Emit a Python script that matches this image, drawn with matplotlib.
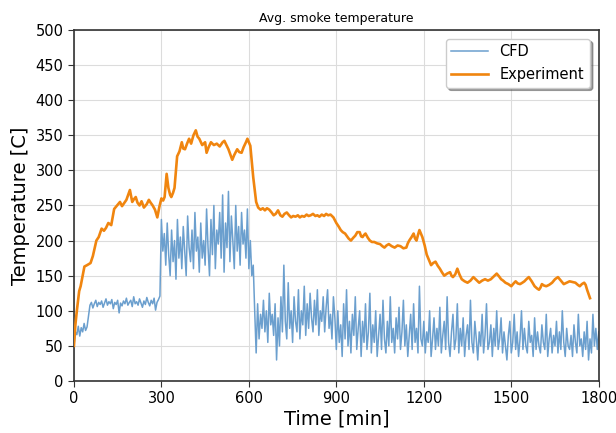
import numpy as np
import matplotlib
matplotlib.use("Agg")
import matplotlib.pyplot as plt

# CFD series sampled every 5 min, 0..1800
cfd_step = 5
cfd_vals = [
    50, 70, 66, 78, 64, 76, 70, 82, 72, 77,
    92, 108, 112, 104, 110, 115, 106, 112, 109, 114,
    105, 111, 117, 108, 113, 110, 116, 103, 112, 109,
    115, 97, 111, 107, 114, 110, 118, 108, 112, 115,
    106, 120, 110, 113, 108, 117, 111, 105, 114, 109,
    119, 112, 107, 115, 110, 118, 101, 112, 116, 121,
    230, 185, 210, 165, 225, 180, 150, 215, 170, 200,
    145, 230, 175, 205, 160, 220, 185, 150, 235, 190,
    170, 215, 160, 240, 185, 205, 155, 225, 175, 200,
    165, 245, 190, 150, 230, 180, 250, 160, 215, 195,
    240, 175, 265, 155, 225, 190, 270, 170, 235, 200,
    160, 250, 185, 220, 165, 240, 195, 215, 175, 245,
    160, 200, 150, 165, 100, 40, 110, 60, 95, 75,
    115, 70, 100, 55, 125, 80, 95, 65, 110, 30,
    90, 50, 120, 70, 165, 85, 60, 140, 75, 100,
    55, 120, 85, 70, 130, 60, 100, 80, 135, 65,
    110, 75, 125, 90, 70, 115, 80, 130, 65, 100,
    85, 120, 70, 105, 130, 75, 95, 60, 120, 90,
    45, 100, 55, 80, 35, 110, 60, 130, 50, 85,
    40, 95, 65, 120, 45, 75, 100, 35, 85, 55,
    110, 45, 70, 125, 40, 80, 55, 100, 35, 65,
    95, 45, 115, 60, 40, 85, 50, 120, 55, 75,
    40, 90, 60, 105, 45, 70, 115, 50, 80, 35,
    65, 95, 45, 110, 55, 75, 40, 135, 60, 50,
    85, 40, 70, 55, 100, 35, 60, 90, 45, 75,
    50, 105, 40, 65, 85, 45, 120, 55, 35, 70,
    95, 45, 60, 110, 40, 75, 50, 90, 35, 65,
    80, 45, 115, 55, 40, 85, 60, 30, 70, 50,
    95, 40, 65, 110, 45, 55, 80, 35, 75, 50,
    100, 45, 60, 90, 40, 70, 50, 30, 65, 85,
    40, 55, 95, 45, 70, 35, 60, 100, 45, 75,
    50, 40, 85, 55, 65, 35, 90, 45, 70, 50,
    40, 80, 55, 45, 95, 35, 60, 75, 40, 65,
    50, 85, 40, 70, 45, 100, 55, 35, 75, 50,
    45, 65, 35, 80, 55, 40, 95, 50, 60, 35,
    70, 45, 85, 30, 60, 40, 95, 50, 75, 45,
    70,
]
cfd_time = np.arange(len(cfd_vals)) * cfd_step

exp_time = [0, 5, 10, 18, 23, 30, 36, 45, 57, 65, 77, 85, 95, 103, 110, 118, 128,
            138, 148, 158, 165, 170, 180, 192, 200, 206, 212, 218, 225, 232, 240,
            250, 257, 263, 270, 278, 286, 293, 300, 306, 311, 318, 324, 330, 334,
            340, 345, 354, 362, 370, 375, 381, 388, 395, 402, 410, 418, 424, 430,
            440, 450, 455, 462, 470, 480, 490, 500, 510, 516, 523, 530, 537, 543,
            550, 560, 567, 575, 582, 590, 595, 605, 615, 625, 632, 640, 648, 655,
            662, 670, 678, 685, 692, 700, 708, 715, 722, 730, 738, 745, 752, 760,
            768, 775, 782, 790, 798, 805, 812, 820, 828, 835, 842, 850, 858, 865,
            872, 880, 890, 900, 908, 915, 922, 930, 935, 942, 950, 958, 965, 972,
            980, 985, 990, 995, 1000, 1008, 1015, 1022, 1030, 1040, 1050, 1058,
            1065, 1072, 1080, 1090, 1100, 1110, 1120, 1130, 1140, 1145, 1150, 1158,
            1165, 1170, 1175, 1180, 1185, 1190, 1195, 1203, 1210, 1218, 1225, 1232,
            1240, 1248, 1255, 1262, 1270, 1280, 1290, 1295, 1300, 1308, 1315, 1322,
            1330, 1340, 1350, 1360, 1370, 1380, 1390, 1400, 1410, 1420, 1430, 1440,
            1450, 1458, 1465, 1472, 1480, 1490, 1500, 1508, 1515, 1522, 1530, 1538,
            1545, 1552, 1560, 1570, 1580, 1588, 1595, 1600, 1605, 1612, 1620, 1630,
            1640, 1650, 1660, 1670, 1680, 1690, 1700, 1710, 1720, 1728, 1735, 1742,
            1750, 1755, 1760, 1765, 1770]
exp_vals = [50, 80, 100, 128, 135, 150, 163, 165, 168, 178, 200, 205, 217, 214, 218, 225, 222,
            245, 250, 255, 249, 252, 258, 272, 255, 259, 262, 254, 250, 256, 247,
            252, 258, 254, 250, 244, 233, 248, 260, 257, 262, 295, 275, 265, 262,
            268, 275, 320, 327, 340, 331, 330, 338, 345, 338, 350, 357, 348, 345,
            336, 340, 325, 333, 340, 336, 338, 334, 340, 342, 336, 330, 322, 315,
            322, 330, 326, 325, 333, 340, 345, 335, 290, 255, 247, 244, 246, 243,
            246, 244, 240, 236, 238, 243, 236, 234, 238, 240, 236, 233, 235, 234,
            236, 233, 235, 234, 237, 235, 236, 238, 235, 236, 234, 237, 235, 238,
            236, 237, 233, 225, 220, 215, 212, 210, 207, 203, 200, 204, 207, 212,
            212, 206, 205, 208, 210, 204, 200, 198, 198, 196, 195, 192,
            190, 193, 195, 192, 190, 193, 192, 189, 190, 196, 200, 205,
            210, 203, 200, 208, 215, 210, 205, 193, 180, 172, 165, 168,
            170, 164, 160, 155, 150, 153, 155, 150, 148, 152, 160, 152,
            145, 142, 140, 143, 148, 144, 140, 143, 145, 143, 145, 149,
            153, 149, 145, 143, 140, 138, 135, 139, 142, 139, 138, 140,
            142, 145, 148, 142, 135, 132, 130, 133, 138, 136, 135, 137,
            140, 145, 148, 143, 138, 140, 142, 141, 140, 137, 135, 138,
            140, 137, 130, 124, 118]

x_ticks = [0, 300, 600, 900, 1200, 1500, 1800]
y_ticks = list(range(0, 501, 50))

fig = plt.figure(figsize=(6.16, 4.33), dpi=100)
ax = fig.add_axes([0.120, 0.120, 0.852, 0.811])

ax.plot(cfd_time, cfd_vals, color="#6b9fce", lw=1.1, label="CFD", zorder=2)
ax.plot(exp_time, exp_vals, color="#f0850f", lw=1.9, label="Experiment", zorder=3)

ax.set_xlim(0, 1800)
ax.set_ylim(0, 500)
ax.set_xticks(x_ticks)
ax.set_yticks(y_ticks)
ax.grid(True, color="#dcdcdc", lw=0.8)
ax.set_axisbelow(True)
ax.tick_params(labelsize=10.5, length=4, color="#333333")
for s in ax.spines.values():
    s.set_color("#333333")
    s.set_linewidth(1.2)

ax.set_title("Avg. smoke temperature", fontsize=9)
ax.set_xlabel("Time [min]", fontsize=14, labelpad=2)
ax.set_ylabel("Temperature [C]", fontsize=14, labelpad=4)

leg = ax.legend(loc="upper right", fontsize=10.5, shadow=True, fancybox=True,
                borderaxespad=0.6, handlelength=2.5)

fig.savefig("out.png", dpi=100)
